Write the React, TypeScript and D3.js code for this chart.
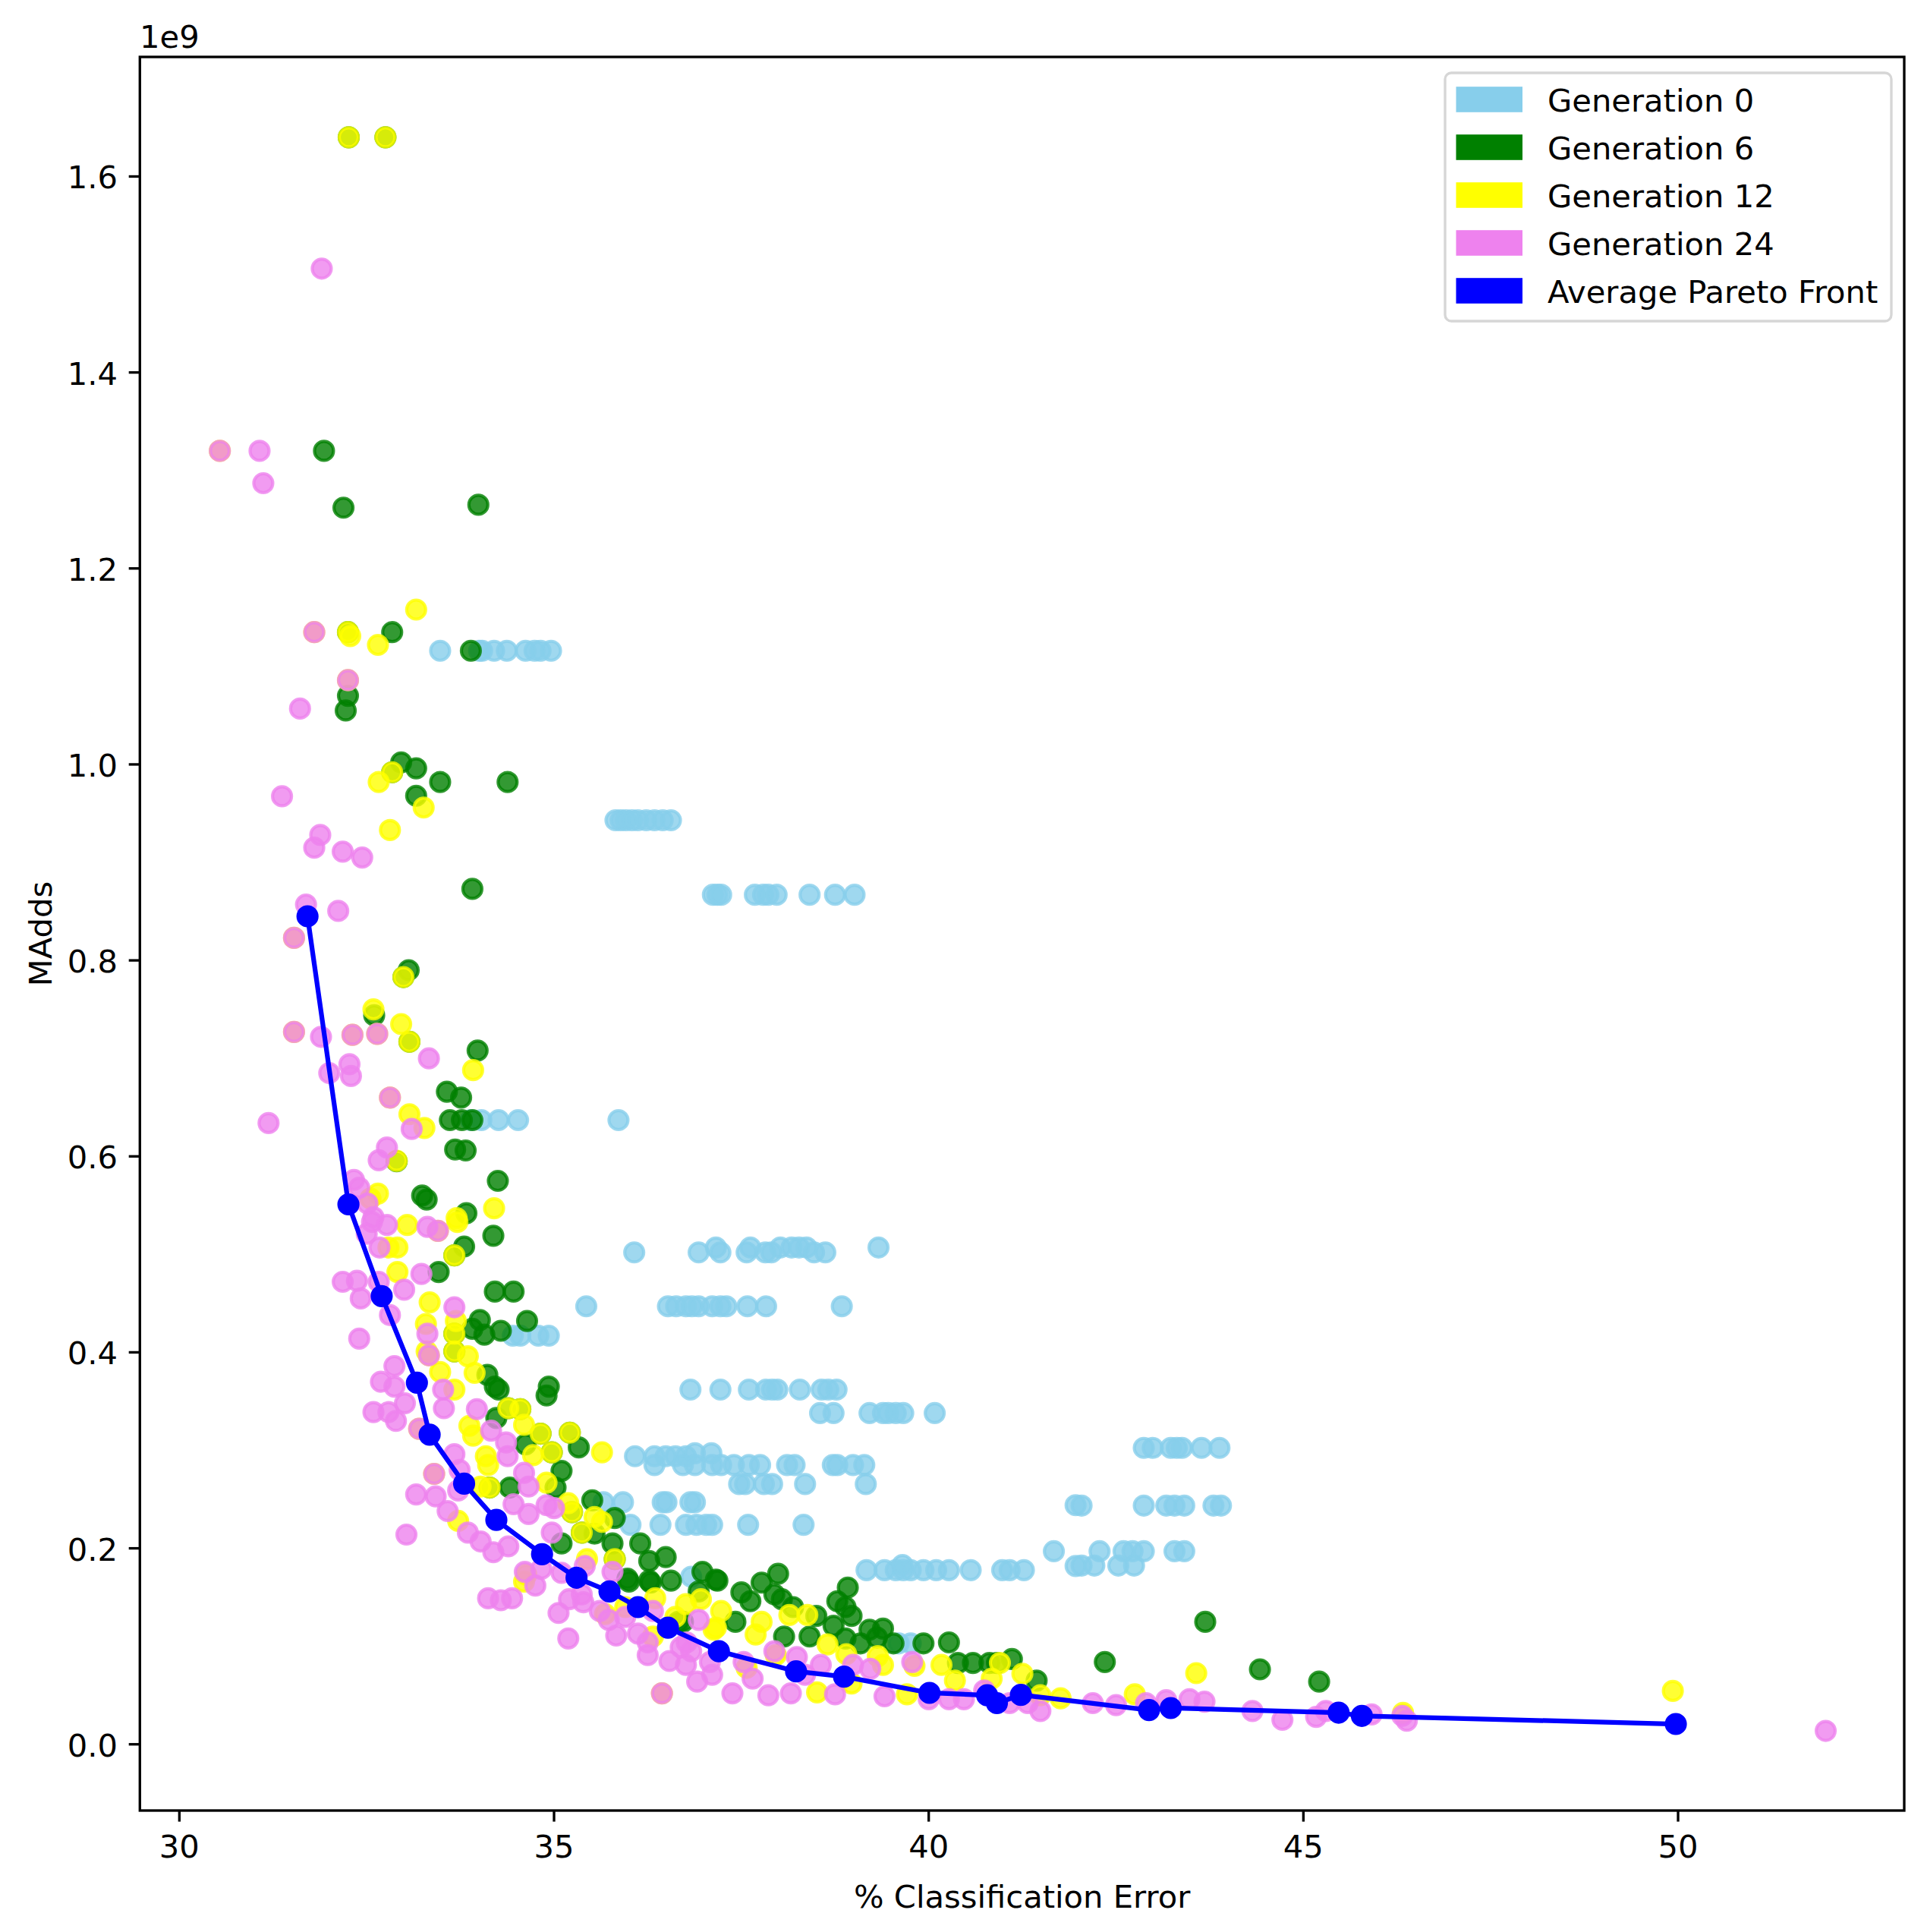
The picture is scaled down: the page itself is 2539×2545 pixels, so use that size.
import React, { useEffect } from "react";
import * as d3 from "d3";

// figure / axes frame (pixels)
const W = 2539;
const H = 2545;
const plot = { left: 184.3, right: 2509, top: 75, bottom: 2385 };

const xTicks = [30, 35, 40, 45, 50];
const yTicks = [0, 0.2, 0.4, 0.6, 0.8, 1.0, 1.2, 1.4, 1.6];

// [error %, MAdds / 1e9]
const gen0: [number, number][] = [
  [33.48, 1.116], [34.0, 1.116], [34.04, 1.116], [34.2, 1.116], [34.37, 1.116], [34.62, 1.116], [34.74, 1.116], [34.82, 1.116], [34.96, 1.116],
  [35.82, 0.943], [35.89, 0.943], [35.96, 0.943], [36.04, 0.943], [36.12, 0.943], [36.23, 0.943], [36.34, 0.943], [36.45, 0.943], [36.56, 0.943],
  [37.12, 0.867], [37.18, 0.867], [37.23, 0.867], [37.68, 0.867], [37.79, 0.867], [37.86, 0.867], [37.97, 0.867], [38.41, 0.867], [38.75, 0.867], [39.01, 0.867],
  [33.89, 0.637], [34.03, 0.637], [34.26, 0.637], [34.52, 0.637], [35.86, 0.637],
  [36.07, 0.502], [36.93, 0.502], [37.16, 0.507], [37.22, 0.502], [37.57, 0.502], [37.62, 0.507], [37.82, 0.502], [37.9, 0.502], [38.02, 0.507],
  [38.17, 0.507], [38.27, 0.507], [38.37, 0.507], [38.47, 0.502], [38.62, 0.502], [39.33, 0.507],
  [35.43, 0.447], [36.52, 0.447], [36.63, 0.447], [36.76, 0.447], [36.84, 0.447], [36.93, 0.447], [37.11, 0.447], [37.22, 0.447], [37.3, 0.447],
  [37.58, 0.447], [37.83, 0.447], [38.84, 0.447],
  [34.45, 0.417], [34.55, 0.417], [34.79, 0.417], [34.93, 0.417],
  [36.82, 0.362], [37.22, 0.362], [37.6, 0.362], [37.83, 0.362], [37.91, 0.362], [37.98, 0.362], [38.28, 0.362], [38.57, 0.362], [38.66, 0.362], [38.77, 0.362],
  [38.55, 0.338], [38.73, 0.338], [39.21, 0.338], [39.39, 0.338], [39.46, 0.338], [39.56, 0.338], [39.66, 0.338], [40.08, 0.338],
  [36.08, 0.294], [36.34, 0.294], [36.49, 0.294], [36.62, 0.294], [36.76, 0.294], [36.88, 0.297], [37.1, 0.297],
  [36.34, 0.285], [36.72, 0.285], [36.88, 0.285], [37.11, 0.285], [37.23, 0.285], [37.4, 0.285], [37.6, 0.285], [37.75, 0.285], [38.11, 0.285],
  [38.21, 0.285], [38.72, 0.285], [38.78, 0.285], [38.99, 0.285], [39.14, 0.285],
  [37.47, 0.2656], [37.55, 0.2656], [37.8, 0.2656], [37.91, 0.2656], [38.35, 0.2656], [39.16, 0.2656],
  [35.66, 0.247], [35.92, 0.247], [36.45, 0.247], [36.5, 0.247], [36.82, 0.247], [36.88, 0.247],
  [36.02, 0.224], [36.42, 0.224], [36.76, 0.224], [36.9, 0.224], [37.03, 0.224], [37.11, 0.224], [37.59, 0.224], [38.33, 0.224],
  [39.17, 0.1777], [39.41, 0.1777], [39.56, 0.1777], [39.66, 0.1777], [39.76, 0.1777], [39.93, 0.1777], [40.1, 0.1777], [40.27, 0.1777],
  [40.56, 0.1777], [40.98, 0.1777], [41.08, 0.1777], [41.27, 0.1777], [39.65, 0.183],
  [36.83, 0.171], [39.6, 0.103], [39.76, 0.103],
  [41.67, 0.197], [41.96, 0.244], [41.96, 0.182],
  [42.87, 0.3025], [42.99, 0.3025], [43.23, 0.3025], [43.31, 0.3025], [43.38, 0.3025], [43.64, 0.3025], [43.88, 0.3025],
  [42.04, 0.2436], [42.87, 0.2436], [43.17, 0.2436], [43.28, 0.2436], [43.41, 0.2436], [43.8, 0.2436], [43.9, 0.2436],
  [42.28, 0.197], [42.6, 0.197], [42.72, 0.197], [42.87, 0.197], [43.28, 0.197], [43.41, 0.197],
  [42.04, 0.1824], [42.21, 0.1824], [42.53, 0.1824], [42.74, 0.1824],
];

const gen6: [number, number][] = [
  [32.26, 1.64], [32.75, 1.64],
  [31.93, 1.32], [32.19, 1.262], [33.99, 1.265], [32.84, 1.135], [32.25, 1.135], [33.89, 1.116], [32.25, 1.07], [32.22, 1.055],
  [32.96, 1.002], [33.16, 0.996], [33.48, 0.982], [34.38, 0.982], [33.16, 0.968], [32.84, 0.992],
  [33.91, 0.873], [33.06, 0.79], [32.99, 0.783], [32.6, 0.744], [33.07, 0.717], [33.98, 0.708], [33.57, 0.666], [33.76, 0.66],
  [33.61, 0.637], [33.77, 0.637], [33.91, 0.637], [33.68, 0.607], [33.82, 0.606], [32.9, 0.595],
  [34.25, 0.575], [33.24, 0.56], [33.3, 0.556], [33.83, 0.542], [34.19, 0.519], [33.8, 0.508], [33.67, 0.499], [33.46, 0.482],
  [34.21, 0.462], [34.46, 0.462], [34.64, 0.432], [34.01, 0.433], [33.91, 0.424], [34.07, 0.418], [34.29, 0.422], [33.67, 0.419], [33.67, 0.401],
  [34.11, 0.377], [34.26, 0.362], [34.21, 0.365], [34.93, 0.365], [34.9, 0.356], [34.39, 0.343], [34.55, 0.342], [34.23, 0.333],
  [34.62, 0.306], [35.33, 0.303], [34.82, 0.317], [35.21, 0.318], [34.97, 0.298], [35.1, 0.279], [34.41, 0.262], [35.02, 0.262], [34.14, 0.262],
  [35.51, 0.249], [35.24, 0.237], [35.81, 0.231], [35.54, 0.215], [35.37, 0.216], [35.1, 0.205], [36.15, 0.205], [35.78, 0.205], [35.81, 0.189],
  [36.27, 0.187], [36.49, 0.191], [36.98, 0.176], [36.27, 0.167], [36.56, 0.167], [36.93, 0.156], [37.16, 0.168], [35.98, 0.169],
  [36.0, 0.166], [36.29, 0.165], [36.66, 0.125], [36.72, 0.125],
  [37.18, 0.167], [37.5, 0.155], [37.77, 0.165], [37.99, 0.174], [37.62, 0.146], [37.94, 0.153], [38.04, 0.148], [37.42, 0.125],
  [38.07, 0.11], [38.41, 0.11], [38.5, 0.131], [38.19, 0.14], [38.92, 0.16], [38.78, 0.146], [38.89, 0.14], [38.97, 0.131], [38.73, 0.121],
  [38.89, 0.108], [39.09, 0.103], [39.21, 0.117], [39.39, 0.118], [39.31, 0.109], [39.53, 0.103], [39.93, 0.103], [40.27, 0.104],
  [40.39, 0.083], [40.59, 0.083], [40.81, 0.083], [40.91, 0.083], [41.11, 0.087], [41.44, 0.065],
  [43.69, 0.125], [42.35, 0.084], [44.42, 0.0765], [45.21, 0.064],
];

const gen12: [number, number][] = [
  [30.54, 1.32], [32.26, 1.64], [32.75, 1.64], [33.16, 1.158], [31.8, 1.135], [32.25, 1.135], [32.28, 1.131], [32.65, 1.122], [32.25, 1.086],
  [32.84, 0.992], [32.66, 0.982], [33.26, 0.956], [32.81, 0.933], [31.53, 0.823], [32.99, 0.783], [32.59, 0.75], [32.96, 0.735],
  [33.07, 0.717], [31.53, 0.727], [32.31, 0.724], [32.64, 0.725], [33.92, 0.688], [32.81, 0.66], [33.07, 0.643], [33.27, 0.629],
  [32.9, 0.5955], [32.65, 0.562], [32.55, 0.557], [34.2, 0.547], [33.71, 0.533],
  [33.04, 0.53], [33.7, 0.537], [32.91, 0.507], [32.79, 0.507], [33.67, 0.499], [32.91, 0.482], [33.45, 0.524], [33.34, 0.451],
  [33.29, 0.429], [33.69, 0.432], [33.67, 0.419], [33.67, 0.401], [33.3, 0.401], [33.33, 0.397], [33.85, 0.396], [33.94, 0.379],
  [33.48, 0.38], [33.67, 0.362], [34.39, 0.343], [34.55, 0.342], [33.87, 0.325], [33.92, 0.315], [33.2, 0.322], [34.6, 0.326],
  [34.82, 0.317], [35.21, 0.318], [35.64, 0.298], [34.09, 0.294], [34.12, 0.285], [34.97, 0.298], [34.72, 0.295], [33.4, 0.276],
  [34.02, 0.263], [34.14, 0.262], [34.9, 0.267], [35.19, 0.246], [35.24, 0.237], [35.54, 0.232], [35.64, 0.227], [35.37, 0.216],
  [33.72, 0.228], [35.81, 0.189], [35.44, 0.189], [34.63, 0.173],
  [34.6, 0.166], [35.68, 0.133], [35.95, 0.14], [36.32, 0.11], [36.35, 0.149], [36.62, 0.13], [37.13, 0.117], [36.96, 0.148],
  [37.23, 0.136], [36.76, 0.143], [37.77, 0.125], [37.69, 0.112], [38.14, 0.132], [38.38, 0.132], [37.16, 0.119], [38.65, 0.102],
  [38.9, 0.092], [39.32, 0.09], [39.39, 0.081], [39.81, 0.08], [40.17, 0.081], [40.35, 0.065], [40.95, 0.083], [41.25, 0.072],
  [41.49, 0.05], [41.76, 0.047], [39.71, 0.051], [38.51, 0.053], [38.97, 0.062], [40.84, 0.067], [37.96, 0.091], [37.57, 0.078],
  [36.44, 0.052], [43.57, 0.0726], [42.75, 0.051], [46.33, 0.032], [49.93, 0.0545],
];

const gen24: [number, number][] = [
  [30.54, 1.32], [31.07, 1.32], [31.12, 1.287], [31.9, 1.506], [31.8, 1.135], [32.25, 1.086], [31.61, 1.057], [31.37, 0.9675],
  [31.88, 0.928], [31.8, 0.915], [32.18, 0.911], [32.44, 0.905], [31.69, 0.857], [32.12, 0.8505], [31.53, 0.823], [31.53, 0.727],
  [31.89, 0.722], [32.31, 0.724], [32.64, 0.725], [32.27, 0.694], [32.29, 0.682], [32.0, 0.685], [33.33, 0.7], [32.81, 0.66],
  [33.1, 0.628], [31.19, 0.634], [32.77, 0.609], [32.66, 0.596], [32.33, 0.576], [32.4, 0.568], [32.51, 0.552], [32.59, 0.538],
  [32.57, 0.533], [32.77, 0.53], [33.31, 0.528], [33.45, 0.524], [32.5, 0.521], [32.67, 0.507], [32.18, 0.472], [32.37, 0.473],
  [32.66, 0.472], [33.0, 0.464], [33.23, 0.48], [32.42, 0.455], [32.81, 0.438], [33.67, 0.446], [32.4, 0.414], [33.31, 0.419],
  [33.33, 0.397], [32.87, 0.386], [32.69, 0.37], [32.87, 0.365], [33.01, 0.348], [32.59, 0.339], [32.79, 0.339], [32.89, 0.33],
  [33.52, 0.362], [33.53, 0.343], [33.97, 0.342], [33.2, 0.322], [34.16, 0.32], [34.36, 0.308], [33.67, 0.296], [34.38, 0.294],
  [33.74, 0.28], [33.4, 0.276], [34.6, 0.277], [34.66, 0.263], [33.16, 0.255], [33.42, 0.253], [33.72, 0.259], [33.58, 0.238],
  [34.46, 0.245], [34.9, 0.244], [35.0, 0.241], [34.66, 0.235], [33.85, 0.216], [33.03, 0.214], [34.02, 0.207], [34.19, 0.196],
  [34.39, 0.202], [34.97, 0.216], [34.61, 0.176], [34.83, 0.179], [35.1, 0.175], [35.41, 0.182], [35.78, 0.176], [34.12, 0.149],
  [34.29, 0.147], [34.44, 0.149], [35.37, 0.153], [35.2, 0.148],
  [35.06, 0.134], [35.19, 0.108], [35.39, 0.145], [35.61, 0.136], [35.73, 0.127], [35.83, 0.111], [36.12, 0.113], [36.25, 0.104],
  [36.25, 0.091], [36.54, 0.085], [36.76, 0.081], [36.91, 0.064], [36.44, 0.052], [36.93, 0.127], [37.08, 0.084], [37.11, 0.071],
  [36.32, 0.136], [36.69, 0.099], [36.83, 0.095], [34.75, 0.162], [35.95, 0.13],
  [36.77, 0.104], [37.38, 0.052], [37.53, 0.084], [37.65, 0.067], [37.86, 0.05], [37.94, 0.095], [38.16, 0.052], [38.24, 0.089],
  [38.35, 0.071], [38.56, 0.081], [38.75, 0.051], [38.99, 0.081], [39.22, 0.077], [39.41, 0.049], [39.78, 0.084], [40.0, 0.046],
  [40.27, 0.046], [40.47, 0.046], [40.74, 0.055], [41.08, 0.042], [41.49, 0.034], [41.32, 0.042],
  [42.19, 0.042], [42.5, 0.04], [42.9, 0.042], [43.17, 0.045], [43.48, 0.046], [43.68, 0.0435], [44.32, 0.034], [44.72, 0.025],
  [45.17, 0.028], [45.3, 0.034], [45.91, 0.0305], [46.32, 0.029], [46.38, 0.024], [51.97, 0.0137],
];

const paretoFront: [number, number][] = [
  [31.71, 0.845], [32.256, 0.551], [32.7, 0.4574], [33.17, 0.369], [33.34, 0.316], [33.8, 0.266], [34.23, 0.229], [34.84, 0.194],
  [35.3, 0.17], [35.74, 0.156], [36.12, 0.14], [36.52, 0.119], [37.2, 0.095], [38.23, 0.0744], [38.87, 0.069], [40.01, 0.0525],
  [40.78, 0.05], [40.91, 0.042], [41.23, 0.0504], [42.94, 0.035], [43.23, 0.037], [45.47, 0.0323], [45.78, 0.029], [49.97, 0.0207],
];

const generations = [
  { name: "Generation 0", color: "skyblue", points: gen0 },
  { name: "Generation 6", color: "green", points: gen6 },
  { name: "Generation 12", color: "yellow", points: gen12 },
  { name: "Generation 24", color: "violet", points: gen24 },
];
const frontName = "Average Pareto Front";
const frontColor = "blue";

const FONT = "DejaVu Sans";
const FS = 41.67;

const App: React.FC = () => {
  useEffect(() => {
    document.body.style.margin = "0";
  }, []);

  const x = d3.scaleLinear().domain([29.473, 53.018]).range([plot.left, plot.right]);
  const y = d3.scaleLinear().domain([-0.0676, 1.722]).range([plot.bottom, plot.top]);

  const line = d3
    .line<[number, number]>()
    .x((d) => x(d[0]))
    .y((d) => y(d[1]));

  const legendItems = [
    ...generations.map((g) => ({ name: g.name, color: g.color })),
    { name: frontName, color: frontColor },
  ];

  return (
    <svg width={W} height={H} style={{ display: "block", background: "#fff" }} fontFamily={FONT}>
      <rect width={W} height={H} fill="#fff" />

      {/* scatter of each generation */}
      {generations.map((g) => (
        <g key={g.name} fill={g.color} stroke={g.color} fillOpacity={0.8} strokeOpacity={0.8} strokeWidth={4.17}>
          {g.points.map((p, i) => (
            <circle key={i} cx={x(p[0])} cy={y(p[1])} r={12.5} />
          ))}
        </g>
      ))}

      {/* pareto front */}
      <path d={line(paretoFront) || ""} fill="none" stroke={frontColor} strokeWidth={6.25} strokeLinejoin="round" />
      <g fill={frontColor} stroke={frontColor} strokeWidth={4.17}>
        {paretoFront.map((p, i) => (
          <circle key={i} cx={x(p[0])} cy={y(p[1])} r={12.5} />
        ))}
      </g>

      {/* spines */}
      <rect
        x={plot.left}
        y={plot.top}
        width={plot.right - plot.left}
        height={plot.bottom - plot.top}
        fill="none"
        stroke="#000"
        strokeWidth={3.33}
        strokeLinecap="square"
      />

      {/* x axis */}
      {xTicks.map((t) => (
        <g key={t}>
          <line x1={x(t)} x2={x(t)} y1={plot.bottom} y2={plot.bottom + 14.6} stroke="#000" strokeWidth={3.33} />
          <text x={x(t)} y={2447} textAnchor="middle" fontSize={FS}>
            {t}
          </text>
        </g>
      ))}
      <text x={(plot.left + plot.right) / 2} y={2513} textAnchor="middle" fontSize={FS}>
        % Classification Error
      </text>

      {/* y axis */}
      {yTicks.map((t) => (
        <g key={t}>
          <line x1={plot.left - 14.6} x2={plot.left} y1={y(t)} y2={y(t)} stroke="#000" strokeWidth={3.33} />
          <text x={155} y={y(t) + 16} textAnchor="end" fontSize={FS}>
            {d3.format(".1f")(t)}
          </text>
        </g>
      ))}
      <text x={184} y={63} fontSize={FS}>
        1e9
      </text>
      <text
        transform={`translate(68, ${(plot.top + plot.bottom) / 2}) rotate(-90)`}
        textAnchor="middle"
        fontSize={FS}
      >
        MAdds
      </text>

      {/* legend */}
      <g>
        <rect
          x={1904}
          y={96}
          width={588}
          height={327}
          rx={8.3}
          fill="#fff"
          fillOpacity={0.8}
          stroke="#cccccc"
          strokeOpacity={0.8}
          strokeWidth={3.33}
        />
        {legendItems.map((item, i) => {
          const cy = 131 + i * 63;
          return (
            <g key={item.name}>
              <rect x={1918.5} y={cy - 16.8} width={87.5} height={33.6} fill={item.color} />
              <text x={2039} y={cy + 15.7} fontSize={FS}>
                {item.name}
              </text>
            </g>
          );
        })}
      </g>
    </svg>
  );
};

export default App;
